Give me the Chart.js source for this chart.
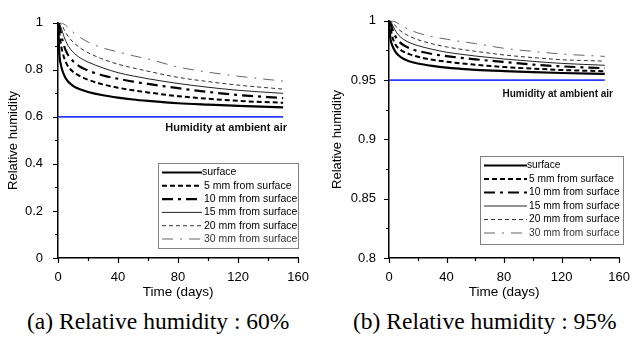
<!DOCTYPE html>
<html>
<head>
<meta charset="utf-8">
<script src="https://cdn.jsdelivr.net/npm/chart.js@4.4.1/dist/chart.umd.min.js"></script>
<style>
  body { margin: 0; background: #fff; width: 642px; height: 340px; position: relative; overflow: hidden; }
  canvas { position: absolute; top: 0; }
  .cap { position: absolute; top: 310px; font-family: "Liberation Serif", "Times New Roman", serif; font-size: 23.5px; line-height: 1; white-space: nowrap; color: #000; }
</style>
</head>
<body>
<canvas id="c60" width="321" height="300" style="left:0"></canvas>
<canvas id="c95" width="321" height="300" style="left:321px"></canvas>
<div class="cap" style="left:27px">(a) Relative humidity : 60%</div>
<div class="cap" style="left:353px">(b) Relative humidity : 95%</div>
<script>
// time axis samples (days)
const days = [0, 1, 2, 3, 5, 7, 10, 15, 20, 30, 40, 50, 60, 80, 100, 120, 150];
const seriesLabels = ['surface', '5 mm from surface', '10 mm from surface', '15 mm from surface', '20 mm from surface', '30 mm from surface'];

// (a) ambient RH 60%
const rh60Surface = [1.0, 0.86, 0.82, 0.795, 0.765, 0.748, 0.732, 0.716, 0.706, 0.692, 0.682, 0.674, 0.668, 0.658, 0.652, 0.647, 0.640];
const rh60Mm5     = [1.0, 0.95, 0.905, 0.875, 0.835, 0.812, 0.792, 0.772, 0.758, 0.738, 0.724, 0.713, 0.704, 0.688, 0.677, 0.668, 0.660];
const rh60Mm10    = [1.0, 0.985, 0.955, 0.925, 0.885, 0.86, 0.837, 0.812, 0.797, 0.776, 0.762, 0.75, 0.74, 0.722, 0.706, 0.693, 0.680];
const rh60Mm15    = [1.0, 0.995, 0.98, 0.96, 0.925, 0.9, 0.875, 0.85, 0.833, 0.808, 0.788, 0.774, 0.762, 0.742, 0.726, 0.713, 0.700];
const rh60Mm20    = [1.0, 1.0, 0.995, 0.985, 0.96, 0.94, 0.918, 0.892, 0.873, 0.845, 0.824, 0.808, 0.794, 0.768, 0.75, 0.735, 0.718];
const rh60Mm30    = [1.0, 1.0, 1.0, 0.998, 0.99, 0.978, 0.96, 0.937, 0.918, 0.893, 0.876, 0.86, 0.846, 0.812, 0.79, 0.773, 0.752];

// (b) ambient RH 95%
const rh95Surface = [1.0, 0.985, 0.98, 0.977, 0.973, 0.9705, 0.968, 0.9655, 0.964, 0.962, 0.9605, 0.9595, 0.9587, 0.9576, 0.9567, 0.956, 0.9552];
const rh95Mm5     = [1.0, 0.994, 0.988, 0.984, 0.979, 0.9765, 0.974, 0.9715, 0.9697, 0.9672, 0.9655, 0.9641, 0.963, 0.961, 0.9597, 0.9585, 0.9575];
const rh95Mm10    = [1.0, 0.998, 0.9944, 0.9906, 0.9856, 0.9825, 0.9796, 0.9765, 0.9746, 0.972, 0.9702, 0.9688, 0.9675, 0.9653, 0.9631, 0.9616, 0.960];
const rh95Mm15    = [1.0, 0.9994, 0.9975, 0.995, 0.9906, 0.9875, 0.9844, 0.9812, 0.9791, 0.976, 0.9735, 0.9718, 0.9703, 0.9678, 0.9658, 0.9641, 0.9625];
const rh95Mm20    = [1.0, 1.0, 0.9994, 0.9981, 0.995, 0.9925, 0.9898, 0.9865, 0.9841, 0.9806, 0.978, 0.976, 0.9743, 0.9712, 0.969, 0.9672, 0.966];
const rh95Mm30    = [1.0, 1.0, 1.0, 0.9998, 0.9988, 0.9973, 0.995, 0.9921, 0.9898, 0.9866, 0.9845, 0.9825, 0.9808, 0.9768, 0.9742, 0.972, 0.970];

// ambient humidity reference lines
const ambientDays = [0, 150];
const ambient60 = [0.6, 0.6];
const ambient95 = [0.95, 0.95];

// tick labels
const xTickLabels = [0, 40, 80, 120, 160];
const yTickLabels60 = [0, 0.2, 0.4, 0.6, 0.8, 1];
const yTickLabels95 = [0.8, 0.85, 0.9, 0.95, 1];

const lineStyles = [
  { color: '#000', width: 2.2, dash: [] },
  { color: '#000', width: 2, dash: [5, 3] },
  { color: '#000', width: 2.2, dash: [11, 5, 3, 5] },
  { color: '#222', width: 1, dash: [] },
  { color: '#333', width: 1, dash: [4, 3] },
  { color: '#666', width: 1, dash: [11, 7, 2, 7] }
];

const FONT = '"Liberation Sans", Arial, sans-serif';
const isTick = (list, v) => list.some(t => Math.abs(t - v) < 1e-6);

// outward ticks, long for labelled values, short for the rest
const tickMarks = {
  id: 'tickMarks',
  afterDraw(chart) {
    const { ctx, chartArea, scales } = chart;
    const yLabels = chart.options.plugins.tickMarks.yLabels;
    ctx.save();
    ctx.strokeStyle = '#000';
    ctx.lineWidth = 1.2;
    ctx.beginPath();
    scales.x.ticks.forEach(t => {
      const px = Math.round(scales.x.getPixelForValue(t.value)) + 0.5;
      const len = isTick(xTickLabels, t.value) ? 5 : 3;
      ctx.moveTo(px, chartArea.bottom);
      ctx.lineTo(px, chartArea.bottom + len);
    });
    scales.y.ticks.forEach(t => {
      const py = Math.round(scales.y.getPixelForValue(t.value)) + 0.5;
      const len = isTick(yLabels, t.value) ? 5 : 3;
      ctx.moveTo(chartArea.left, py);
      ctx.lineTo(chartArea.left - len, py);
    });
    ctx.stroke();
    ctx.restore();
  }
};

// boxed legend with line samples + ambient note
const boxLegend = {
  id: 'boxLegend',
  afterDraw(chart) {
    const o = chart.options.plugins.boxLegend;
    const { ctx } = chart;
    ctx.save();
    ctx.strokeStyle = '#808080';
    ctx.lineWidth = 1;
    ctx.setLineDash([]);
    ctx.strokeRect(o.x + 0.5, o.y + 0.5, o.w, o.h);
    ctx.font = o.fontSize + 'px ' + FONT;
    ctx.textBaseline = 'middle';
    ctx.fillStyle = '#000';
    seriesLabels.forEach((label, i) => {
      const st = lineStyles[i];
      const ry = o.y + o.first + i * o.row;
      ctx.strokeStyle = st.color;
      ctx.lineWidth = st.width;
      ctx.setLineDash(st.dash);
      ctx.beginPath();
      ctx.moveTo(o.x + 4, ry);
      ctx.lineTo(o.x + 4 + o.sample, ry);
      ctx.stroke();
      ctx.fillStyle = i === 5 ? '#333' : '#000';
      ctx.fillText(label, o.x + o.sample + (i === 0 ? 4 : 6), ry);
    });
    // ambient note
    const ny = chart.scales.y.getPixelForValue(o.ambient) + o.noteDy;
    ctx.font = 'bold ' + o.noteSize + 'px ' + FONT;
    ctx.textAlign = 'right';
    ctx.fillStyle = '#111';
    ctx.fillText('Humidity at ambient air', o.noteRight, ny);
    ctx.restore();
  }
};

function makeChart(id, series, ambient, yMin, yMax, yStep, yLabels, lay) {
  const datasets = series.map((vals, i) => ({
    label: seriesLabels[i],
    data: days.map((d, k) => ({ x: d, y: vals[k] })),
    borderColor: lineStyles[i].color,
    borderWidth: lineStyles[i].width,
    borderDash: lineStyles[i].dash,
    cubicInterpolationMode: 'monotone',
    pointRadius: 0,
    fill: false
  }));
  datasets.push({
    label: 'ambient',
    data: ambientDays.map((d, k) => ({ x: d, y: ambient[k] })),
    borderColor: '#2b3cff',
    borderWidth: 1.8,
    pointRadius: 0,
    fill: false
  });

  return new Chart(document.getElementById(id), {
    type: 'line',
    data: { datasets },
    options: {
      responsive: false,
      animation: false,
      devicePixelRatio: 1,
      layout: { padding: { top: 13, right: lay.padRight, left: 0, bottom: 0 } },
      scales: {
        x: {
          type: 'linear', min: 0, max: 160,
          grid: { display: false, drawTicks: false },
          border: { display: true, color: '#000', width: 1.5 },
          ticks: {
            stepSize: 20, autoSkip: false, maxRotation: 0, padding: 12,
            color: '#000', font: { family: FONT, size: 13 },
            callback: v => isTick(xTickLabels, v) ? String(v) : ''
          },
          title: { display: true, text: 'Time (days)', color: '#000', font: { family: FONT, size: 13.5 }, padding: { top: 0, bottom: 0 } },
          afterFit: s => { s.height = 42; }
        },
        y: {
          type: 'linear', min: yMin, max: yMax,
          grid: { display: false, drawTicks: false },
          border: { display: true, color: '#000', width: 1.5 },
          ticks: {
            stepSize: yStep, autoSkip: false, padding: lay.yPad,
            color: '#000', font: { family: FONT, size: 13 },
            callback: v => isTick(yLabels, v) ? String(+v.toFixed(2)) : ''
          },
          title: { display: true, text: 'Relative humidity', color: '#000', font: { family: FONT, size: 13 }, padding: { top: lay.titlePad, bottom: 0 } },
          afterFit: s => { s.width = lay.yWidth; }
        }
      },
      plugins: {
        legend: { display: false },
        tooltip: { enabled: false },
        tickMarks: { yLabels },
        boxLegend: lay.legend
      }
    },
    plugins: [tickMarks, boxLegend]
  });
}

makeChart('c60',
  [rh60Surface, rh60Mm5, rh60Mm10, rh60Mm15, rh60Mm20, rh60Mm30],
  ambient60, 0, 1, 0.1, yTickLabels60,
  { yWidth: 58, padRight: 14, yPad: 15, titlePad: 6,
    legend: { x: 158, y: 163, w: 140, h: 85, first: 9.5, row: 13.3, sample: 40, fontSize: 10.5,
              ambient: 0.6, noteDy: 11, noteRight: 287, noteSize: 11 } });

makeChart('c95',
  [rh95Surface, rh95Mm5, rh95Mm10, rh95Mm15, rh95Mm20, rh95Mm30],
  ambient95, 0.8, 1, 0.025, yTickLabels95,
  { yWidth: 68, padRight: 11, yPad: 13, titlePad: 9,
    legend: { x: 159, y: 156, w: 143, h: 88, first: 9.5, row: 13.5, sample: 43, fontSize: 10.2,
              ambient: 0.95, noteDy: 14, noteRight: 292, noteSize: 10 } });
</script>
</body>
</html>
